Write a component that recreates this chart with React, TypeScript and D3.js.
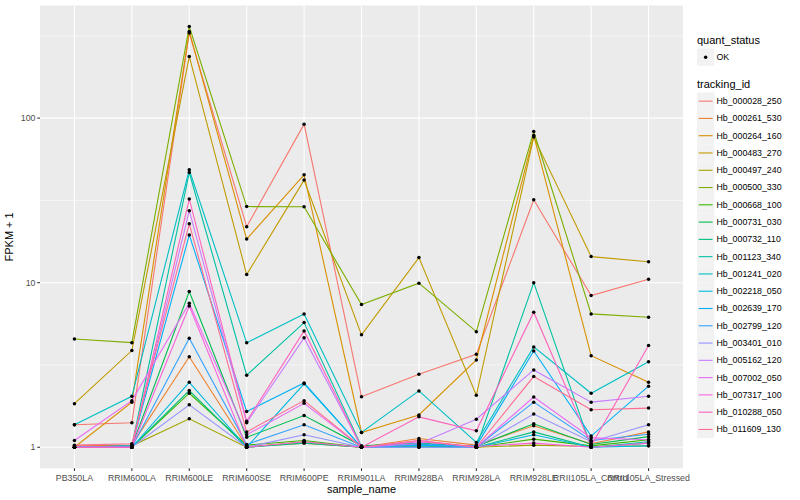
import React from 'react';
import * as d3 from 'd3';

const samples = [
  'PB350LA', 'RRIM600LA', 'RRIM600LE', 'RRIM600SE', 'RRIM600PE', 'RRIM901LA',
  'RRIM928BA', 'RRIM928LA', 'RRIM928LE', 'RRII105LA_Control', 'RRII105LA_Stressed',
];

const trackingIds = [
  'Hb_000028_250', 'Hb_000261_530', 'Hb_000264_160', 'Hb_000483_270', 'Hb_000497_240',
  'Hb_000500_330', 'Hb_000668_100', 'Hb_000731_030', 'Hb_000732_110', 'Hb_001123_340',
  'Hb_001241_020', 'Hb_002218_050', 'Hb_002639_170', 'Hb_002799_120', 'Hb_003401_010',
  'Hb_005162_120', 'Hb_007002_050', 'Hb_007317_100', 'Hb_010288_050', 'Hb_011609_130',
];

// FPKM + 1 per sample, in the order of `samples`
const hb_000028_250 = [1.37, 1.41, 329, 21.9, 91.9, 2.03, 2.78, 3.67, 31.9, 8.35, 10.5];
const hb_000261_530 = [1.02, 1.03, 3.55, 1.01, 1.06, 1.0, 1.13, 1.03, 1.35, 1.05, 1.24];
const hb_000264_160 = [1.0, 1.88, 336, 18.4, 45.2, 1.23, 1.57, 3.39, 78.5, 3.6, 2.48];
const hb_000483_270 = [1.84, 3.87, 237, 11.2, 42.0, 4.82, 14.2, 2.07, 76.7, 14.4, 13.4];
const hb_000497_240 = [1.0, 1.02, 1.49, 1.0, 1.08, 1.0, 1.02, 1.0, 1.03, 1.01, 1.02];
const hb_000500_330 = [4.55, 4.32, 360, 29.0, 28.9, 7.36, 9.93, 5.04, 82.9, 6.46, 6.17];
const hb_000668_100 = [1.0, 1.0, 2.13, 1.03, 1.1, 1.0, 1.04, 1.0, 1.12, 1.02, 1.11];
const hb_000731_030 = [1.0, 1.01, 8.83, 1.15, 1.56, 1.02, 1.06, 1.01, 1.39, 1.04, 1.16];
const hb_000732_110 = [1.0, 1.0, 2.21, 1.0, 1.06, 1.0, 1.02, 1.0, 1.24, 1.0, 1.06];
const hb_001123_340 = [1.0, 1.02, 46.7, 2.74, 5.72, 1.01, 1.05, 1.0, 10.0, 1.0, 1.08];
const hb_001241_020 = [1.37, 2.04, 48.5, 4.31, 6.46, 1.23, 2.2, 1.07, 4.07, 2.13, 3.31];
const hb_002218_050 = [1.0, 1.0, 2.48, 1.0, 2.43, 1.0, 1.0, 1.0, 1.19, 1.0, 1.02];
const hb_002639_170 = [1.0, 1.02, 19.5, 1.65, 2.46, 1.0, 1.03, 1.02, 3.85, 1.17, 2.35];
const hb_002799_120 = [1.0, 1.0, 4.6, 1.04, 1.37, 1.0, 1.05, 1.0, 1.88, 1.1, 1.2];
const hb_003401_010 = [1.0, 1.0, 1.81, 1.0, 1.19, 1.0, 1.0, 1.0, 1.59, 1.08, 1.37];
const hb_005162_120 = [1.0, 1.0, 27.4, 1.41, 4.62, 1.0, 1.05, 1.48, 2.95, 1.88, 2.04];
const hb_007002_050 = [1.1, 1.92, 7.5, 1.19, 1.85, 1.0, 1.1, 1.0, 2.02, 1.14, 1.11];
const hb_007317_100 = [1.0, 1.0, 7.22, 1.0, 1.08, 1.0, 1.08, 1.01, 1.06, 1.0, 1.06];
const hb_010288_050 = [1.0, 1.0, 32.2, 1.44, 5.09, 1.0, 1.53, 1.26, 6.62, 1.02, 4.15];
const hb_011609_130 = [1.03, 1.05, 22.8, 1.24, 1.92, 1.0, 1.1, 1.0, 2.69, 1.69, 1.73];

const seriesValues = [
  hb_000028_250, hb_000261_530, hb_000264_160, hb_000483_270, hb_000497_240,
  hb_000500_330, hb_000668_100, hb_000731_030, hb_000732_110, hb_001123_340,
  hb_001241_020, hb_002218_050, hb_002639_170, hb_002799_120, hb_003401_010,
  hb_005162_120, hb_007002_050, hb_007317_100, hb_010288_050, hb_011609_130,
];

const yTicks = [1, 10, 100];
const yTickLabels = ['1', '10', '100'];

const palette = [
  '#F8766D', '#EA8331', '#D89000', '#C09B00', '#A3A500', '#7CAE00', '#39B600', '#00BB4E',
  '#00BF7D', '#00C1A3', '#00BFC4', '#00BAE0', '#00B0F6', '#35A2FF', '#9590FF', '#C77CFF',
  '#E76BF3', '#FA62DB', '#FF62BC', '#FF6C91',
];

const W = 800;
const H = 500;
const P = { left: 40, right: 683, top: 5.5, bottom: 468.3 };
const FONT = '"Liberation Sans", Arial, Helvetica, sans-serif';

export default function App() {
  const x = d3.scalePoint<string>().domain(samples).range([P.left, P.right]).padding(0.6);

  const all = seriesValues.flat();
  const lmin = Math.log10(d3.min(all) as number);
  const lmax = Math.log10(d3.max(all) as number);
  const r = lmax - lmin;
  const y = d3
    .scaleLog()
    .domain([Math.pow(10, lmin - 0.05 * r), Math.pow(10, lmax + 0.05 * r)])
    .range([P.bottom, P.top]);

  const minorY = [0.5, 1.5, 2.5].map((e) => Math.pow(10, e));

  const line = d3
    .line<number>()
    .x((_, i) => x(samples[i]) as number)
    .y((d) => y(d));

  const legX = 697;
  const keySize = 17.28;
  const tk0 = 92.5;

  return (
    <div style={{ position: 'fixed', left: 0, top: 0 }}>
      <svg width={W} height={H} style={{ display: 'block', fontFamily: FONT }}>
        <rect x={0} y={0} width={W} height={H} fill="#FFFFFF" />
        <rect x={P.left} y={P.top} width={P.right - P.left} height={P.bottom - P.top} fill="#EBEBEB" />
        {minorY.map((v, i) => (
          <line key={'mn' + i} x1={P.left} x2={P.right} y1={y(v)} y2={y(v)} stroke="#FFFFFF" strokeWidth={0.55} />
        ))}
        {yTicks.map((v, i) => (
          <line key={'mj' + i} x1={P.left} x2={P.right} y1={y(v)} y2={y(v)} stroke="#FFFFFF" strokeWidth={1.07} />
        ))}
        {samples.map((s) => (
          <line key={'vx' + s} x1={x(s)} x2={x(s)} y1={P.top} y2={P.bottom} stroke="#FFFFFF" strokeWidth={1.07} />
        ))}

        {seriesValues.map((vals, i) => (
          <path key={'ln' + i} d={line(vals) as string} fill="none" stroke={palette[i]} strokeWidth={1.1} />
        ))}
        {seriesValues.map((vals, i) =>
          vals.map((v, j) => (
            <circle key={'pt' + i + '_' + j} cx={x(samples[j])} cy={y(v)} r={1.75} fill="#000000" />
          ))
        )}

        {/* y axis */}
        {yTicks.map((v, i) => (
          <g key={'yt' + i}>
            <line x1={P.left - 2.75} x2={P.left} y1={y(v)} y2={y(v)} stroke="#333333" strokeWidth={1.07} />
            <text x={P.left - 4.5} y={y(v)} dy="0.33em" textAnchor="end" fontSize={8.8} fill="#4D4D4D">
              {yTickLabels[i]}
            </text>
          </g>
        ))}
        {/* x axis */}
        {samples.map((s) => (
          <g key={'xt' + s}>
            <line x1={x(s)} x2={x(s)} y1={P.bottom} y2={P.bottom + 2.75} stroke="#333333" strokeWidth={1.07} />
            <text x={x(s)} y={P.bottom + 12.6} textAnchor="middle" fontSize={8.8} fill="#4D4D4D">
              {s}
            </text>
          </g>
        ))}
        <text x={(P.left + P.right) / 2} y={493} textAnchor="middle" fontSize={11} fill="#000000">
          sample_name
        </text>
        <text
          transform={`translate(${13},${(P.top + P.bottom) / 2}) rotate(-90)`}
          textAnchor="middle"
          fontSize={11}
          fill="#000000"
        >
          FPKM + 1
        </text>

        {/* legend: quant_status */}
        <text x={legX} y={44} fontSize={11} fill="#000000">quant_status</text>
        <rect x={legX} y={48.5} width={keySize} height={keySize} fill="#F2F2F2" />
        <circle cx={legX + keySize / 2} cy={48.5 + keySize / 2} r={1.75} fill="#000000" />
        <text x={legX + keySize + 2.2} y={48.5 + keySize / 2} dy="0.33em" fontSize={8.8} fill="#000000">OK</text>

        {/* legend: tracking_id */}
        <text x={legX} y={88} fontSize={11} fill="#000000">tracking_id</text>
        {trackingIds.map((id, i) => {
          const ky = tk0 + i * keySize;
          return (
            <g key={'lg' + id}>
              <rect x={legX} y={ky} width={keySize} height={keySize} fill="#F2F2F2" />
              <line
                x1={legX + 1.7}
                x2={legX + keySize - 1.7}
                y1={ky + keySize / 2}
                y2={ky + keySize / 2}
                stroke={palette[i]}
                strokeWidth={1.1}
              />
              <text x={legX + keySize + 2.2} y={ky + keySize / 2} dy="0.33em" fontSize={8.8} fill="#000000">
                {id}
              </text>
            </g>
          );
        })}
      </svg>
    </div>
  );
}
